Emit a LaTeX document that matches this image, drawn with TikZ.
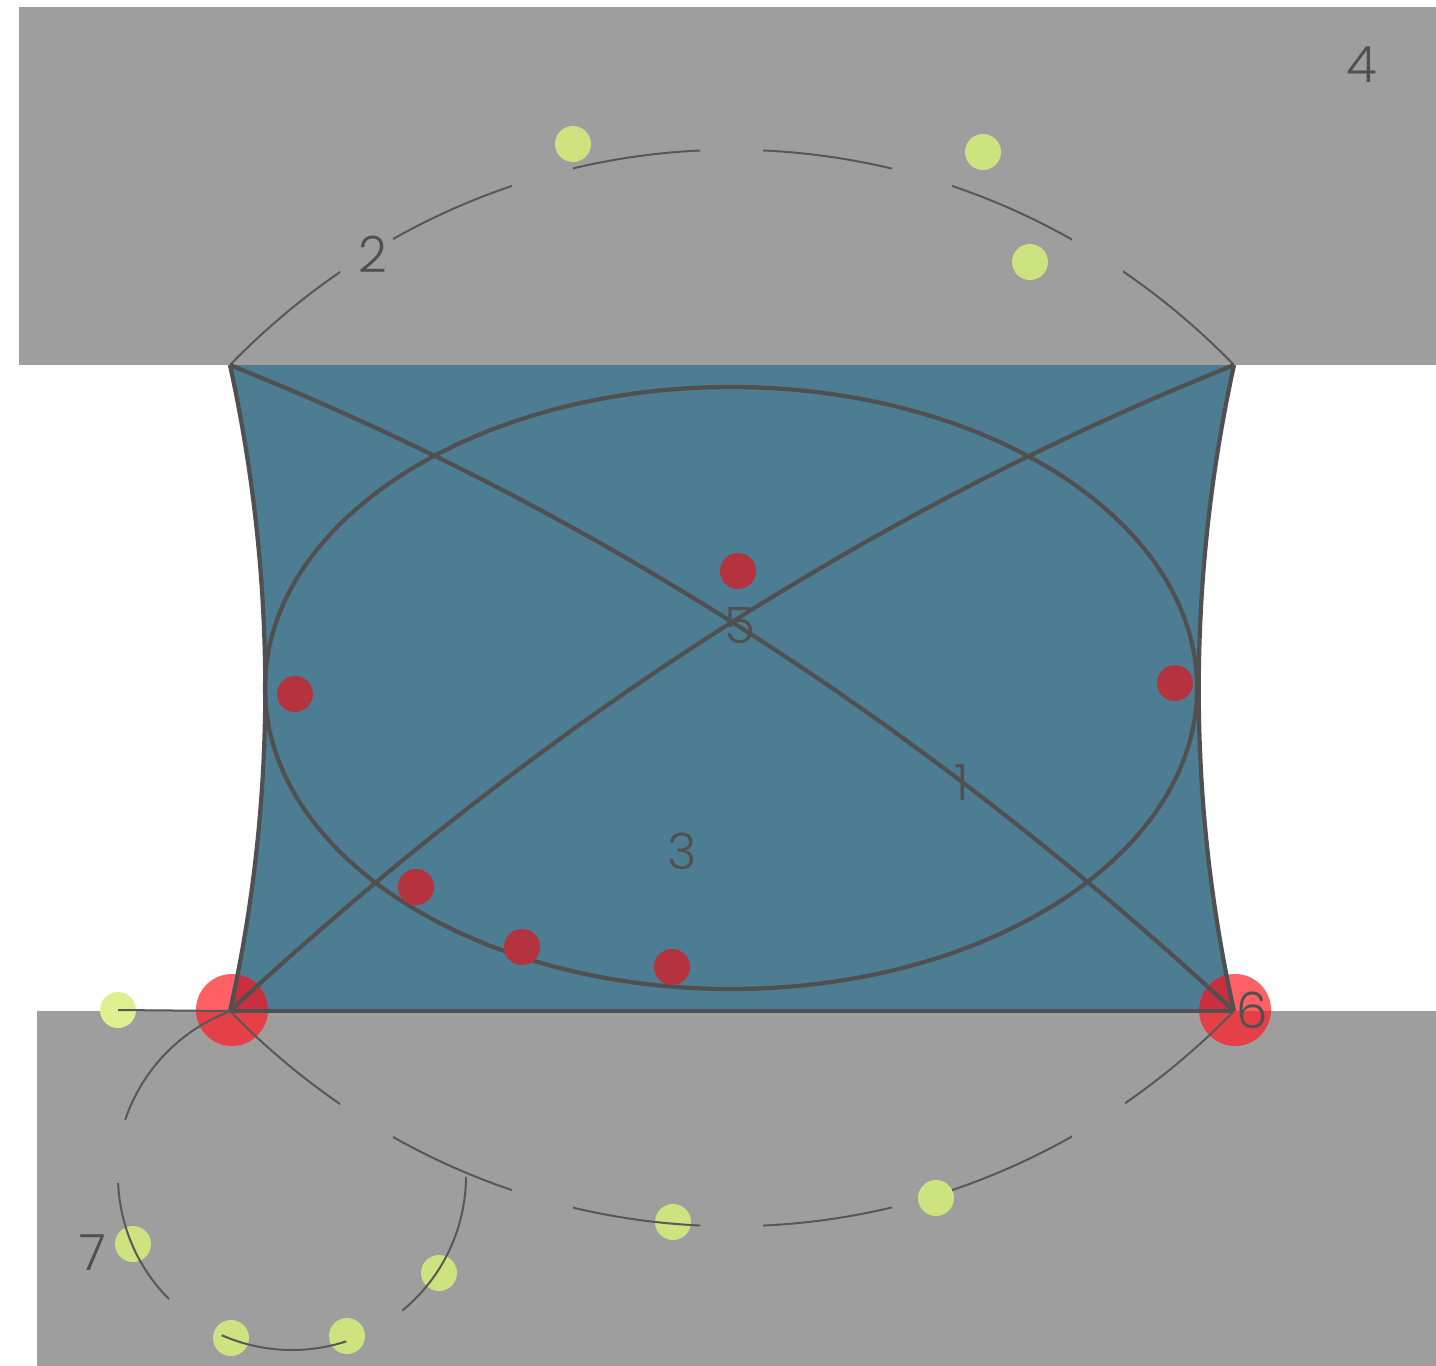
\documentclass[tikz,border=0pt]{standalone}
\usepackage{fontspec}
\setmainfont{Poppins Light}
\definecolor{bandgray}{HTML}{9E9E9E}
\definecolor{waterblue}{HTML}{4D7D92}
\definecolor{inkdark}{HTML}{505050}
\definecolor{dotgreen}{HTML}{CDE37F}
\definecolor{dotgreenpale}{HTML}{DFF090}
\definecolor{dotred}{HTML}{B5323F}
\definecolor{bigwhite}{HTML}{FF6064}
\definecolor{bigblue}{HTML}{C8303F}
\definecolor{biggray}{HTML}{E54047}
\tikzset{
  heavy/.style={draw=inkdark,line width=4.2pt},
  fine/.style={draw=inkdark!90!bandgray,line width=2pt},
  greendot/.style={circle,fill=dotgreen,minimum size=36pt,inner sep=0pt},
  reddot/.style={circle,fill=dotred,minimum size=36pt,inner sep=0pt},
  lbl/.style={text=inkdark,font=\fontsize{50}{54}\selectfont,inner sep=0pt},
}
\begin{document}
\begin{tikzpicture}[x=1pt,y=1pt,yscale=-1]
\useasboundingbox (0,0) rectangle (1436,1366);
\coordinate (TL) at (230,365);
\coordinate (TR) at (1234,365);
\coordinate (BL) at (230,1011);
\coordinate (BR) at (1234,1011);
\def\blueedge{(TL) -- (TR) .. controls (1187,580) and (1187,800) .. (BR) -- (BL) .. controls (277,800) and (277,580) .. (TL) -- cycle}
% bands
\fill[bandgray] (19,7) rectangle (1436,365);
\fill[bandgray] (37,1011) rectangle (1436,1366);
% water
\fill[waterblue] \blueedge;
% big translucent-looking discs, one tint per region
\foreach \cx/\cy in {232/1010,1235/1010}{
  \begin{scope}
    \clip (\cx,\cy) circle (36);
    \fill[bigwhite] (\cx-40,\cy-40) rectangle (\cx+40,1011);
    \fill[biggray] (\cx-40,1011) rectangle (\cx+40,\cy+40);
    \fill[bigblue] \blueedge;
  \end{scope}
}
% water outline
\draw[heavy] (TR) .. controls (1187,580) and (1187,800) .. (BR);
\draw[heavy] (TL) .. controls (277,580) and (277,800) .. (BL);
\draw[heavy] (BL) -- (BR);
\draw[heavy] (731,688) ellipse (466 and 301);
\draw[heavy] (TL) .. controls (592,510) and (925,724) .. (BR);
\draw[heavy] (TR) .. controls (872,510) and (539,724) .. (BL);
% green dots
\node[greendot] (g1) at (573,144) {};
\node[greendot] (g2) at (983,152) {};
\node[greendot] (g3) at (1030,262) {};
\node[greendot,fill=dotgreenpale] (g4) at (118,1010) {};
\node[greendot] (g5) at (133,1244) {};
\node[greendot] (g6) at (231,1338) {};
\node[greendot] (g7) at (347,1336) {};
\node[greendot] (g8) at (439,1273) {};
\node[greendot] (g9) at (673,1222) {};
\node[greendot] (g10) at (936,1198) {};
% red dots
\node[reddot] (r1) at (738,571) {};
\node[reddot] (r2) at (295,694) {};
\node[reddot] (r3) at (1175,683) {};
\node[reddot] (r4) at (416,887) {};
\node[reddot] (r5) at (522,947) {};
\node[reddot] (r6) at (672,967) {};
% broken arcs
\begin{scope}
  \clip (230,100) rectangle (340,366) (393,100) rectangle (512,366)
        (573,100) rectangle (700,366) (763,100) rectangle (892,366)
        (952,100) rectangle (1072,366) (1123,100) rectangle (1234,366);
  \draw[fine] (TL) .. controls (509,78) and (955,78) .. (TR);
\end{scope}
\begin{scope}
  \clip (230,1010) rectangle (340,1300) (393,1010) rectangle (512,1300)
        (573,1010) rectangle (700,1300) (763,1010) rectangle (892,1300)
        (952,1010) rectangle (1072,1300) (1125,1010) rectangle (1234,1300);
  \draw[fine] (BL) .. controls (509,1298) and (955,1298) .. (BR);
\end{scope}
\draw[fine] ([shift={(292,1176)}]249.4:176) arc[start angle=249.4,end angle=198.6,radius=176];
\draw[fine] ([shift={(292,1176)}]177.7:174) arc[start angle=177.7,end angle=135,radius=174];
\draw[fine] ([shift={(292,1176)}]113.8:174) arc[start angle=113.8,end angle=71.8,radius=174];
\draw[fine] ([shift={(292,1176)}]50.7:174) arc[start angle=50.7,end angle=0.3,radius=174];
\draw[fine] (g4.center) -- (BL);
% labels
\node[lbl] (n4) at (1362,65) {4};
\node[lbl] (n2) at (373,254) {2};
\node[lbl] (n5) at (740,626) {5};
\node[lbl] (n1) at (962,783) {1};
\node[lbl] (n3) at (682,851) {3};
\node[lbl] (n6) at (1252,1010) {6};
\node[lbl] (n7) at (93,1253) {7};
\end{tikzpicture}
\end{document}
